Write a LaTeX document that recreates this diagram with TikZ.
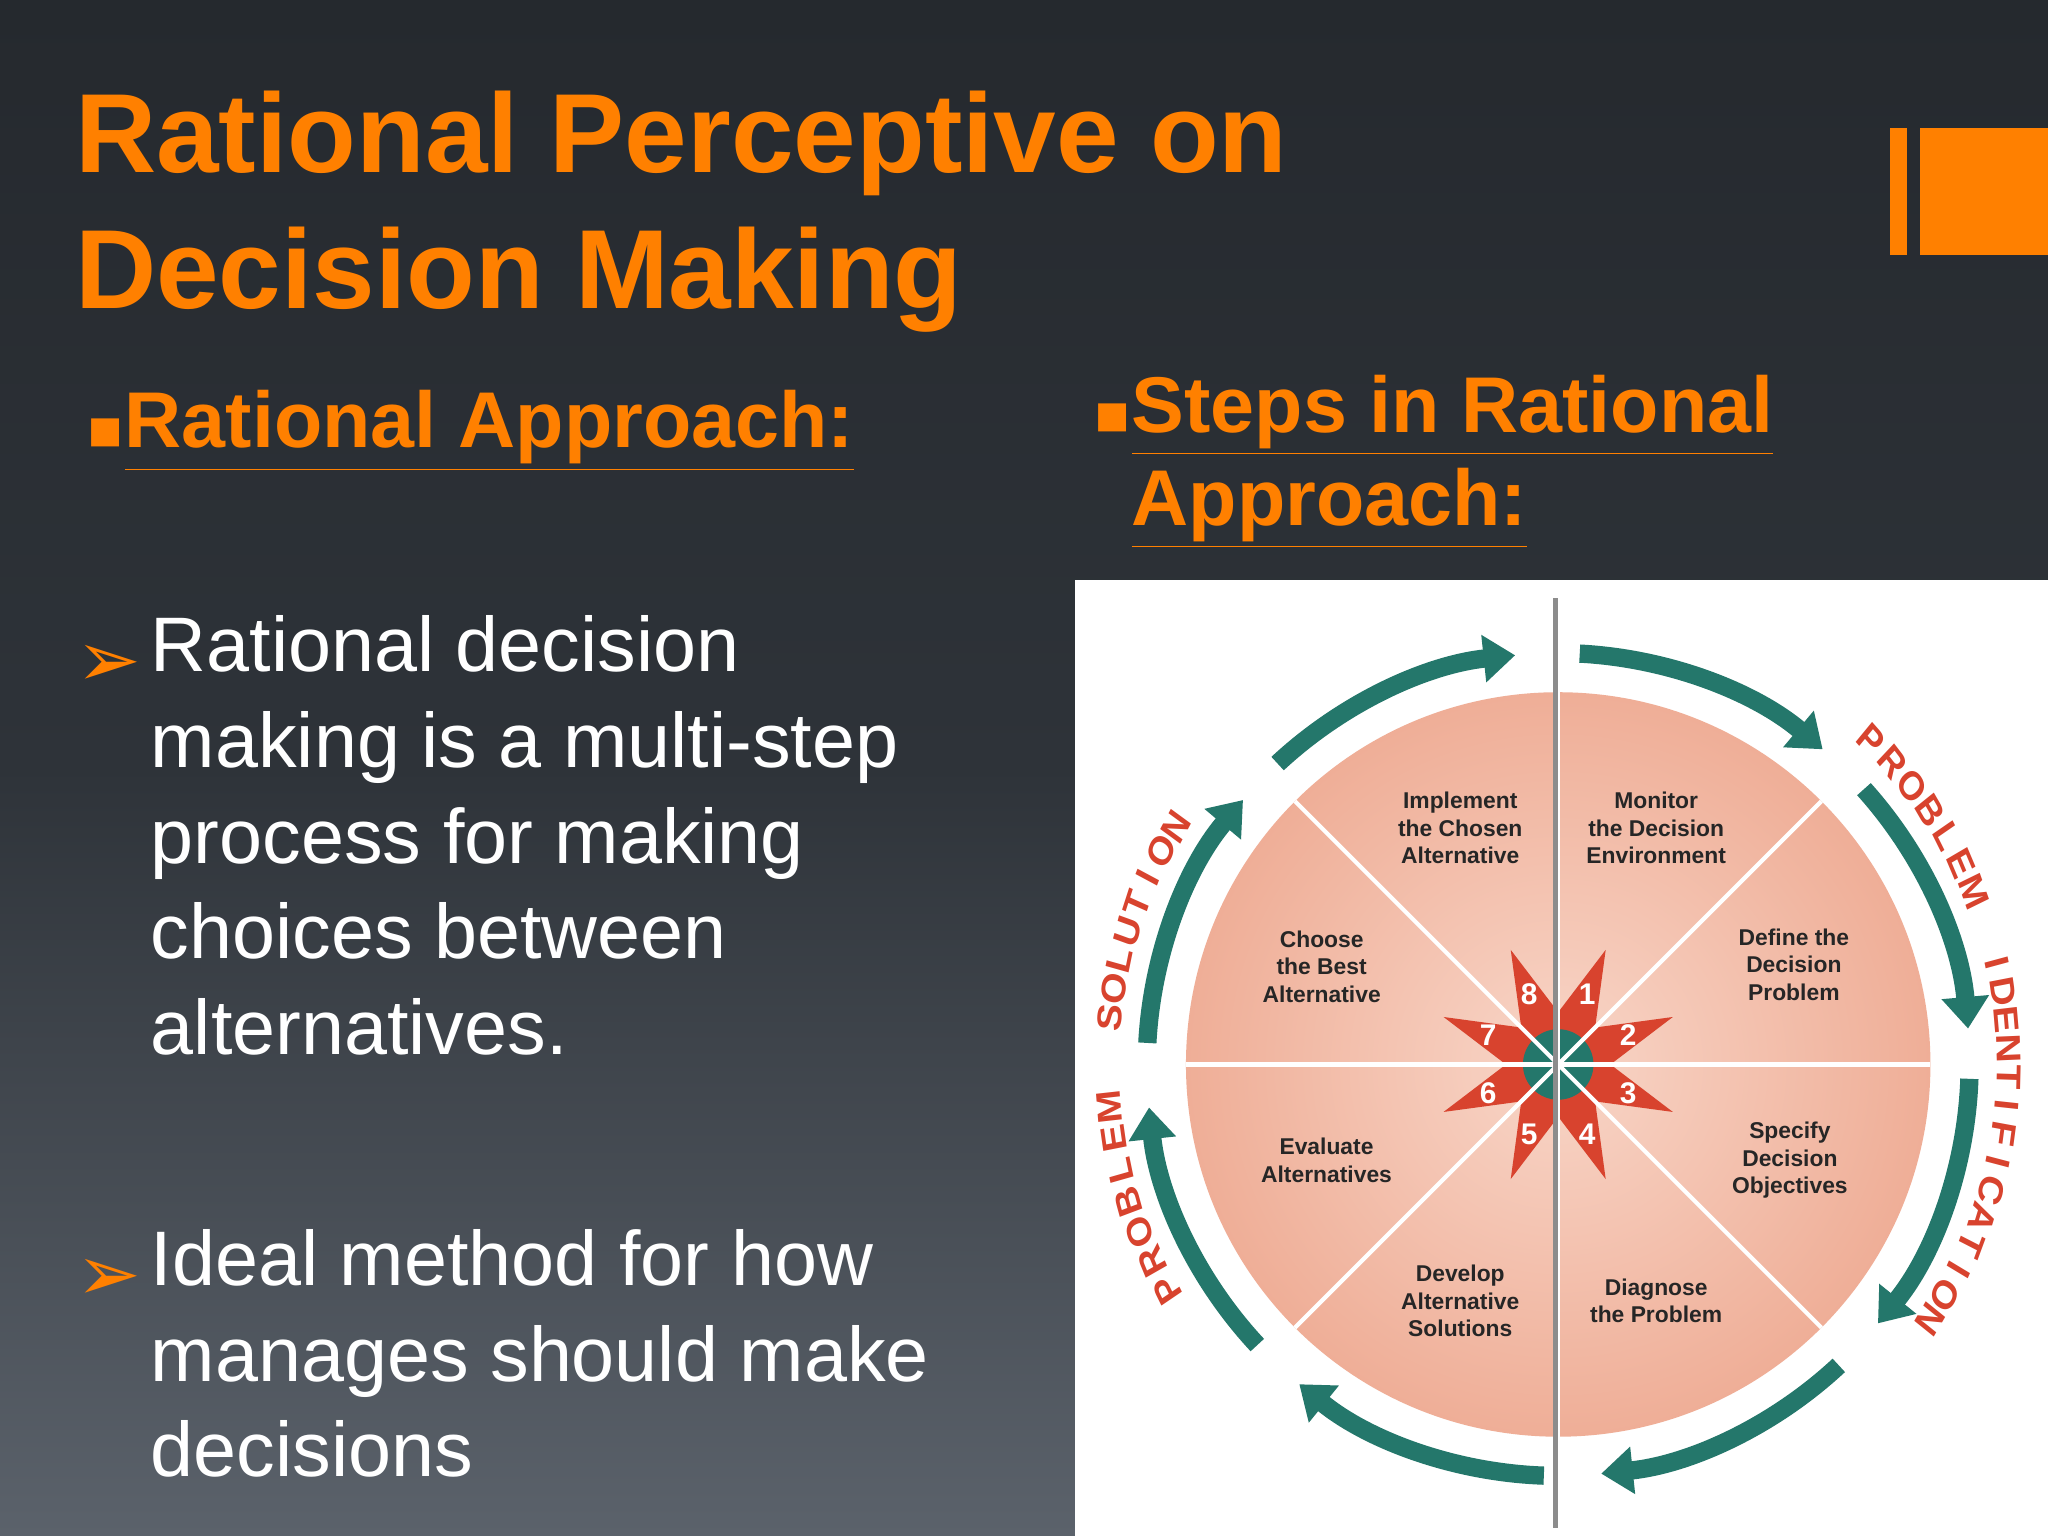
\documentclass[tikz,border=0pt]{standalone}
\usepackage{fontspec}
\setmainfont{Liberation Sans}
\newfontfamily\djv{DejaVu Sans}
\usetikzlibrary{arrows.meta}
\definecolor{bgtop}{HTML}{25292E}
\definecolor{bgmid}{HTML}{2E3339}
\definecolor{bgbot}{HTML}{5B626B}
\definecolor{orng}{HTML}{FF8000}
\definecolor{teal1}{HTML}{24776B}
\definecolor{redc}{HTML}{D8432E}
\definecolor{pieo}{HTML}{EFAE97}
\definecolor{piei}{HTML}{F8D6C8}
\newcommand{\ul}[1]{\underline{#1}}
\tikzset{
  ttl/.style={anchor=base west,inner sep=0,text=orng,font=\fontsize{32}{39}\selectfont\bfseries},
  hd/.style={anchor=base west,inner sep=0,text=orng,font=\fontsize{22.5}{27}\selectfont\bfseries},
  body/.style={anchor=base west,inner sep=0,text=white,align=left,font=\fontsize{22}{27.2}\selectfont},
  bul/.style={anchor=base west,inner sep=0,text=orng,font=\djv\fontsize{22}{22}\selectfont},
  sq/.style={anchor=base west,inner sep=0,text=orng,font=\djv\fontsize{16}{16}\selectfont},
  slice/.style={align=center,inner sep=0,text=black!85,font=\fontsize{6.5}{7.8}\selectfont\bfseries},
  num/.style={inner sep=0,text=white,font=\fontsize{8.5}{9}\selectfont\bfseries},
  arcl/.style={inner sep=0,text=redc,font=\fontsize{11.5}{11}\selectfont\bfseries,xscale=0.85},
  ringarrow/.style={teal1,line width=5.2pt,-{Triangle[width=13pt,length=9pt]}},
}
\begin{document}
\begin{tikzpicture}[x=0.013061cm,y=0.013061cm]
\useasboundingbox (0,0) rectangle (1568,1176);
\shade[top color=bgtop,bottom color=bgbot,middle color=bgmid] (0,0) rectangle (1568,1176);
\fill[orng] (1447,981) rectangle (1460,1078);
\fill[orng] (1470,981) rectangle (1568,1078);
\node[ttl] (t1) at (57,1044) {Rational Perceptive on};
\node[ttl] (t2) at (57,940) {Decision Making};
\node[sq] (b1) at (66,833) {▪};
\node[hd] (h1) at (95,833) {\ul{Rational Approach:}};
\node[sq] (b2) at (837,845) {▪};
\node[hd] (h2) at (866,845) {\ul{Steps in Rational}};
\node[hd] (h3) at (866,774) {\ul{Approach:}};
\node[bul] (a1) at (58,650) {➢};
\node[body,anchor=north west] (p1) at (115,705) {Rational decision\\making is a multi-step\\process for making\\choices between\\alternatives.};
\node[bul] (a2) at (58,180) {➢};
\node[body,anchor=north west] (p2) at (115,235) {Ideal method for how\\manages should make\\decisions};
\fill[white] (823,0) rectangle (1568,732);
\begin{scope}[shift={(1193,361)}]
  \shade[inner color=piei,outer color=pieo] (0,0) circle (285);
  \foreach \s in {87,42,-2,-47,-92,-137,177,133}
    \draw[ringarrow] (\s:315) arc[start angle=\s,end angle=\s-37,radius=315];
  \fill[redc] (67.5:95) -- (45:40) -- (22.5:95) -- (0:40) -- (-22.5:95) -- (-45:40) -- (-67.5:95) -- (-90:40)
     -- (-112.5:95) -- (-135:40) -- (-157.5:95) -- (180:40) -- (157.5:95) -- (135:40) -- (112.5:95) -- (90:40) -- cycle;
  \fill[teal1] (0,0) circle (27);
  \foreach \a in {0,45,...,315} \draw[white,line width=1.2pt] (0,0) -- (\a:285);
  \draw[black!45,line width=1.3pt] (-2,357) -- (-2,-355);
  \foreach \n [count=\i] in {1,...,8} {
    \pgfmathsetmacro\ang{67.5-45*(\i-1)}
    \node[num] (n\i) at (\ang:58) {\n};
  }
  \node[slice] (s1) at (112.5:196) {Implement\\the Chosen\\Alternative};
  \node[slice] (s2) at (67.5:196) {Monitor\\the Decision\\Environment};
  \node[slice] (s3) at (23:196) {Define the\\Decision\\Problem};
  \node[slice] (s4) at (-22.5:192) {Specify\\Decision\\Objectives};
  \node[slice] (s5) at (-67.5:196) {Diagnose\\the Problem};
  \node[slice] (s6) at (-112.5:196) {Develop\\Alternative\\Solutions};
  \node[slice] (s7) at (-157.5:192) {Evaluate\\Alternatives};
  \node[slice] (s8) at (157.5:196) {Choose\\the Best\\Alternative};
  \foreach \ch [count=\i] in {P,R,O,B,L,E,M} {
    \pgfmathsetmacro\ang{46-3.9*(\i-1)}
    \node[arcl,rotate=\ang-90] at (\ang:345) {\ch};
  }
  \foreach \ch [count=\i] in {I,D,E,N,T,I,F,I,C,A,T,I,O,N} {
    \pgfmathsetmacro\ang{13-3.65*(\i-1)}
    \node[arcl,rotate=\ang-90] at (\ang:345) {\ch};
  }
  \foreach \ch [count=\i] in {P,R,O,B,L,E,M} {
    \pgfmathsetmacro\ang{210-4.1*(\i-1)}
    \node[arcl,rotate=\ang-90] at (\ang:345) {\ch};
  }
  \foreach \ch [count=\i] in {S,O,L,U,T,I,O,N} {
    \pgfmathsetmacro\ang{174-3.7*(\i-1)}
    \node[arcl,rotate=\ang-90] at (\ang:345) {\ch};
  }
\end{scope}
\end{tikzpicture}
\end{document}
